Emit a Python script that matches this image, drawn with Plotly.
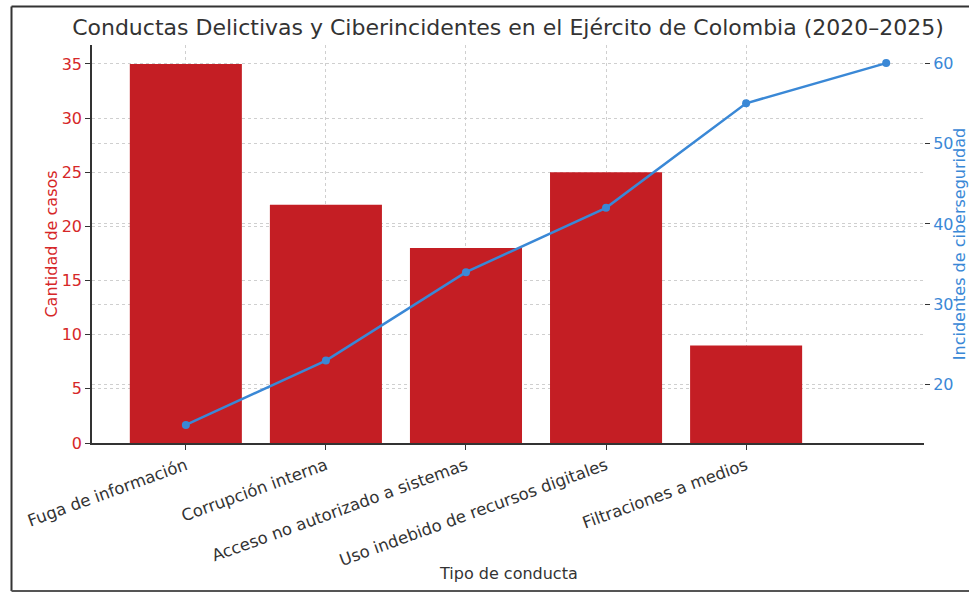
import plotly.graph_objects as go

categorias = ["Fuga de información", "Corrupción interna", "Acceso no autorizado a sistemas",
              "Uso indebido de recursos digitales", "Filtraciones a medios"]
casos = [35, 22, 18, 25, 9]
incidentes = [15, 23, 34, 42, 55, 60]

titulo = "Conductas Delictivas y Ciberincidentes en el Ejército de Colombia (2020–2025)"
titulo_x = "Tipo de conducta"

RED = "#c41e24"
RED_T = "#d62728"
BLUE = "#3a88d6"
GRID = "#cfcfcf"
FONT = "DejaVu Sans"

fig = go.Figure()
fig.add_trace(go.Bar(
    x=list(range(len(categorias))), y=casos, width=0.8,
    marker=dict(color=RED, line=dict(width=0)), name="Casos", yaxis="y"))
fig.add_trace(go.Scatter(
    x=list(range(len(incidentes))), y=incidentes, mode="lines+markers",
    line=dict(color=BLUE, width=2.5), marker=dict(color=BLUE, size=8),
    name="Incidentes", yaxis="y2"))

fig.update_layout(
    width=969, height=592,
    margin=dict(l=92, r=45, t=45, b=149, autoexpand=False),
    paper_bgcolor="white", plot_bgcolor="white",
    showlegend=False,
    font=dict(family=FONT, color="#333333"),
    title=dict(text=titulo, x=0.5, xref="paper", xanchor="center",
               y=1 - 27 / 592, yanchor="middle",
               font=dict(size=22, color="#333333", family=FONT)),
    xaxis=dict(
        range=[-0.67, 5.27], tickmode="array", automargin=False,
        tickvals=list(range(len(categorias))), ticktext=categorias,
        tickangle=-20, tickfont=dict(size=16.5, color="#333333"),
        ticks="outside", ticklen=5, tickcolor="#333333",
        showline=True, linecolor="#333333", linewidth=1.5,
        showgrid=True, gridcolor=GRID, griddash="dot", gridwidth=1,
        zeroline=False,
    ),
    yaxis=dict(
        range=[0, 36.75], tickvals=[0, 5, 10, 15, 20, 25, 30, 35], automargin=False,
        tickfont=dict(size=16, color=RED_T),
        ticks="outside", ticklen=5, tickcolor="#333333",
        showline=True, linecolor="#333333", linewidth=1.5,
        showgrid=True, gridcolor=GRID, griddash="dot", gridwidth=1,
        zeroline=False,
        title=dict(text="Cantidad de casos", font=dict(size=16, color=RED_T), standoff=0),
    ),
    yaxis2=dict(
        range=[12.75, 62.25], tickvals=[20, 30, 40, 50, 60], automargin=False,
        overlaying="y", side="right",
        tickfont=dict(size=16, color=BLUE),
        ticks="outside", ticklen=5, tickcolor="#333333",
        showline=False,
        showgrid=True, gridcolor=GRID, griddash="dot", gridwidth=1,
        zeroline=False,
        title=dict(text="Incidentes de ciberseguridad", font=dict(size=16, color=BLUE), standoff=5),
    ),
    annotations=[
        dict(text=titulo_x, xref="paper", yref="paper", x=0.5, y=(443 - 573) / 398,
             xanchor="center", yanchor="middle", showarrow=False,
             font=dict(size=16, color="#333333", family=FONT)),
    ],
    shapes=[
        dict(type="line", xref="paper", yref="paper", x0=(11.5 - 92) / 832, x1=(969 - 92) / 832,
             y0=(443 - 6.5) / 398, y1=(443 - 6.5) / 398, line=dict(color="#333333", width=2)),
        dict(type="line", xref="paper", yref="paper", x0=(11.5 - 92) / 832, x1=(11.5 - 92) / 832,
             y0=(443 - 6.5) / 398, y1=(443 - 591) / 398, line=dict(color="#333333", width=2)),
        dict(type="line", xref="paper", yref="paper", x0=(11.5 - 92) / 832, x1=(969 - 92) / 832,
             y0=(443 - 591) / 398, y1=(443 - 591) / 398, line=dict(color="#555555", width=2)),
    ],
)

fig.write_html("out.html")
